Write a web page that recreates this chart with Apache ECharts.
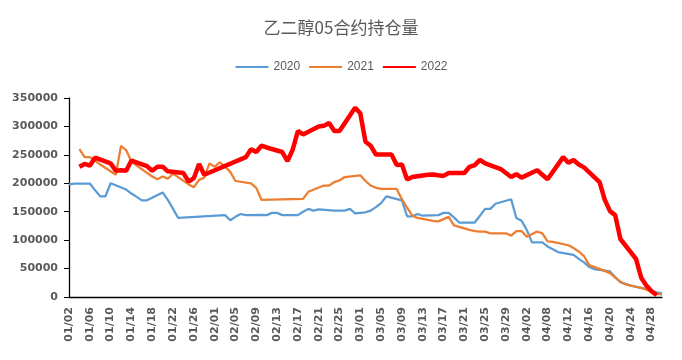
<!DOCTYPE html>
<html>
<head>
<meta charset="utf-8">
<script src="https://cdn.jsdelivr.net/npm/echarts@6/dist/echarts.min.js"></script>
<style>html,body{margin:0;padding:0;background:#fff;}#c{width:682px;height:360px;}</style>
</head>
<body>
<div id="c"></div>
<script>
const categories = [
'01/02','01/03','01/04','01/05','01/06','01/07','01/08','01/09','01/10','01/11','01/12','01/13','01/14','01/15','01/16','01/17','01/18','01/19','01/20','01/21','01/22','01/23','01/24','01/25','01/26','01/27','01/28','01/29',
'02/01','02/02','02/03','02/04','02/05','02/06','02/07','02/08','02/09','02/10','02/11','02/12','02/13','02/14','02/15','02/16','02/17','02/18','02/19','02/20','02/21','02/22','02/23','02/24','02/25','02/26','02/27','02/28',
'03/01','03/02','03/03','03/04','03/05','03/06','03/07','03/08','03/09','03/10','03/11','03/12','03/13','03/14','03/15','03/16','03/17','03/18','03/19','03/20','03/21','03/22','03/23','03/24','03/25','03/26','03/27','03/28','03/29','03/30','03/31',
'04/01','04/02','04/03','04/06','04/07','04/08','04/09','04/10','04/11','04/12','04/13','04/14','04/15','04/16','04/17','04/18','04/19','04/20','04/21','04/22','04/23','04/24','04/25','04/26','04/27','04/28','04/29','04/30'
];

const dates2020 = ['01/02','01/03','01/06','01/07','01/08','01/09','01/10','01/13','01/14','01/15','01/16','01/17','01/20','01/21','01/22','01/23',
'02/03','02/04','02/05','02/06','02/07','02/10','02/11','02/12','02/13','02/14','02/17','02/18','02/19','02/20','02/21','02/24','02/25','02/26','02/27','02/28',
'03/02','03/03','03/04','03/05','03/06','03/09','03/10','03/11','03/12','03/13','03/16','03/17','03/18','03/19','03/20','03/23','03/24','03/25','03/26','03/27','03/30','03/31',
'04/01','04/02','04/03','04/07','04/08','04/09','04/10','04/13','04/14','04/15','04/16','04/17','04/20','04/21','04/22','04/23','04/24','04/27','04/28','04/29','04/30'];
const values2020 = [198000,199500,199500,188000,177000,177000,200000,189000,182000,176000,170000,170000,184000,171000,155000,139000,
144000,135000,141000,146000,144000,144500,144000,148000,148000,144000,144000,150000,155000,152000,154000,152000,152000,152000,155000,147000,
149000,152000,158000,165000,177000,170000,142000,142000,146000,143000,144000,148000,148000,140000,131000,131000,143000,155000,155000,164000,172000,139000,
134000,118000,96000,96000,89000,84000,79000,74000,67000,61000,53000,49000,45000,35000,26000,23000,20000,14000,10000,8000,6500];

const dates2021 = ['01/04','01/05','01/06','01/07','01/08','01/11','01/12','01/13','01/14','01/15','01/18','01/19','01/20','01/21','01/22','01/25','01/26','01/27','01/28','01/29',
'02/01','02/02','02/03','02/04','02/05','02/08','02/09','02/10','02/18','02/19','02/22','02/23','02/24','02/25','02/26',
'03/01','03/02','03/03','03/04','03/05','03/08','03/09','03/10','03/11','03/12','03/15','03/16','03/17','03/18','03/19','03/22','03/23','03/24','03/25','03/26','03/29','03/30','03/31',
'04/01','04/02','04/06','04/07','04/08','04/09','04/12','04/13','04/14','04/15','04/16','04/19','04/20','04/21','04/22','04/23','04/26','04/27','04/28','04/29','04/30'];
const values2021 = [260000,246000,246000,240000,233000,215000,266000,258000,238000,231000,212000,207000,212000,208000,217000,198000,193000,206000,210000,235000,
229000,237000,229000,220000,204000,200000,192000,171000,172500,185000,196000,196000,202000,205000,211000,
214000,204000,196000,192000,190000,190000,172000,157000,143000,139000,134000,133000,137000,141000,126000,118000,116000,115000,115000,112000,112000,108000,116000,
116000,106000,115000,112000,98000,97000,91000,86000,80000,72000,56000,46000,42000,34000,27000,22000,16000,13000,9000,6000,4000];

const dates2022 = ['01/04','01/05','01/06','01/07','01/10','01/11','01/12','01/13','01/14','01/17','01/18','01/19','01/20','01/21','01/24','01/25','01/26','01/27','01/28',
'02/07','02/08','02/09','02/10','02/11','02/14','02/15','02/16','02/17','02/18','02/21','02/22','02/23','02/24','02/25','02/28',
'03/01','03/02','03/03','03/04','03/07','03/08','03/09','03/10','03/11','03/14','03/15','03/16','03/17','03/18','03/21','03/22','03/23','03/24','03/25','03/28','03/29','03/30','03/31',
'04/01','04/06','04/07','04/08','04/11','04/12','04/13','04/14','04/15','04/18','04/19','04/20','04/21','04/22','04/25','04/26','04/27','04/28','04/29'];
const values2022 = [229000,234000,231000,245000,235000,222000,223000,222000,240000,230000,222000,229000,229000,221000,218000,203000,209000,234000,215000,
246000,260000,255000,266000,263000,255000,239000,259000,292000,286000,300000,301000,306000,292000,292000,333000,
323000,273000,266000,250500,250500,232000,233000,206500,211000,215000,215500,214000,213000,218000,218000,229000,232000,241000,235000,225000,218000,211000,216000,
210000,223000,215000,207000,246000,236000,241000,233000,228000,202000,171000,151000,144000,102000,67000,34000,20000,10000,3000];

const yTicks = [0,50000,100000,150000,200000,250000,300000,350000];
const seriesNames = ['2020','2021','2022'];

function build(dates, values) {
  const arr = categories.map(() => null);
  dates.forEach((d, i) => { arr[categories.indexOf(d)] = values[i]; });
  return arr;
}

const chart = echarts.init(document.getElementById('c'), null, {renderer: 'canvas'});
const labelFont = {color: '#595959', fontSize: 11, fontWeight: 'bold', fontFamily: 'DejaVu Sans'};
chart.setOption({
  animation: false,
  backgroundColor: '#ffffff',
  title: {
    text: '乙二醇05合约持仓量',
    left: 'center',
    top: 14,
    textStyle: {color: '#595959', fontSize: 17, fontWeight: 'normal', fontFamily: 'Noto Sans CJK SC'}
  },
  legend: {
    top: 56,
    left: 'center',
    itemWidth: 33,
    itemHeight: 12,
    itemGap: 8,
    itemStyle: {color: 'rgba(0,0,0,0)', borderWidth: 0, opacity: 0},
    textStyle: {color: '#595959', fontSize: 12, fontFamily: 'Liberation Sans'},
    data: seriesNames
  },
  grid: {left: 69, right: 20, top: 98, bottom: 63, containLabel: false},
  xAxis: {
    type: 'category',
    data: categories,
    boundaryGap: false,
    axisLine: {show: true, lineStyle: {color: '#000', width: 1.3}},
    axisTick: {show: false},
    axisLabel: Object.assign({interval: 3, rotate: 90, margin: 10}, labelFont),
    splitLine: {show: false}
  },
  yAxis: {
    type: 'value',
    min: yTicks[0],
    max: yTicks[yTicks.length - 1],
    interval: 50000,
    axisLine: {show: true, lineStyle: {color: '#000', width: 1.3}},
    axisTick: {show: true, length: 5, lineStyle: {color: '#000'}},
    axisLabel: Object.assign({margin: 11, formatter: (v) => String(v)}, labelFont),
    splitLine: {show: false}
  },
  series: [
    {name: seriesNames[0], type: 'line', data: build(dates2020, values2020), connectNulls: true, symbol: 'none',
     lineStyle: {color: '#5B9BD5', width: 2.25}, itemStyle: {color: '#5B9BD5'}},
    {name: seriesNames[1], type: 'line', data: build(dates2021, values2021), connectNulls: true, symbol: 'none',
     lineStyle: {color: '#ED7D31', width: 2.25}, itemStyle: {color: '#ED7D31'}},
    {name: seriesNames[2], type: 'line', data: build(dates2022, values2022), connectNulls: true, symbol: 'none',
     lineStyle: {color: '#FF0000', width: 4.5}, itemStyle: {color: '#FF0000'}}
  ]
});
</script>
</body>
</html>
